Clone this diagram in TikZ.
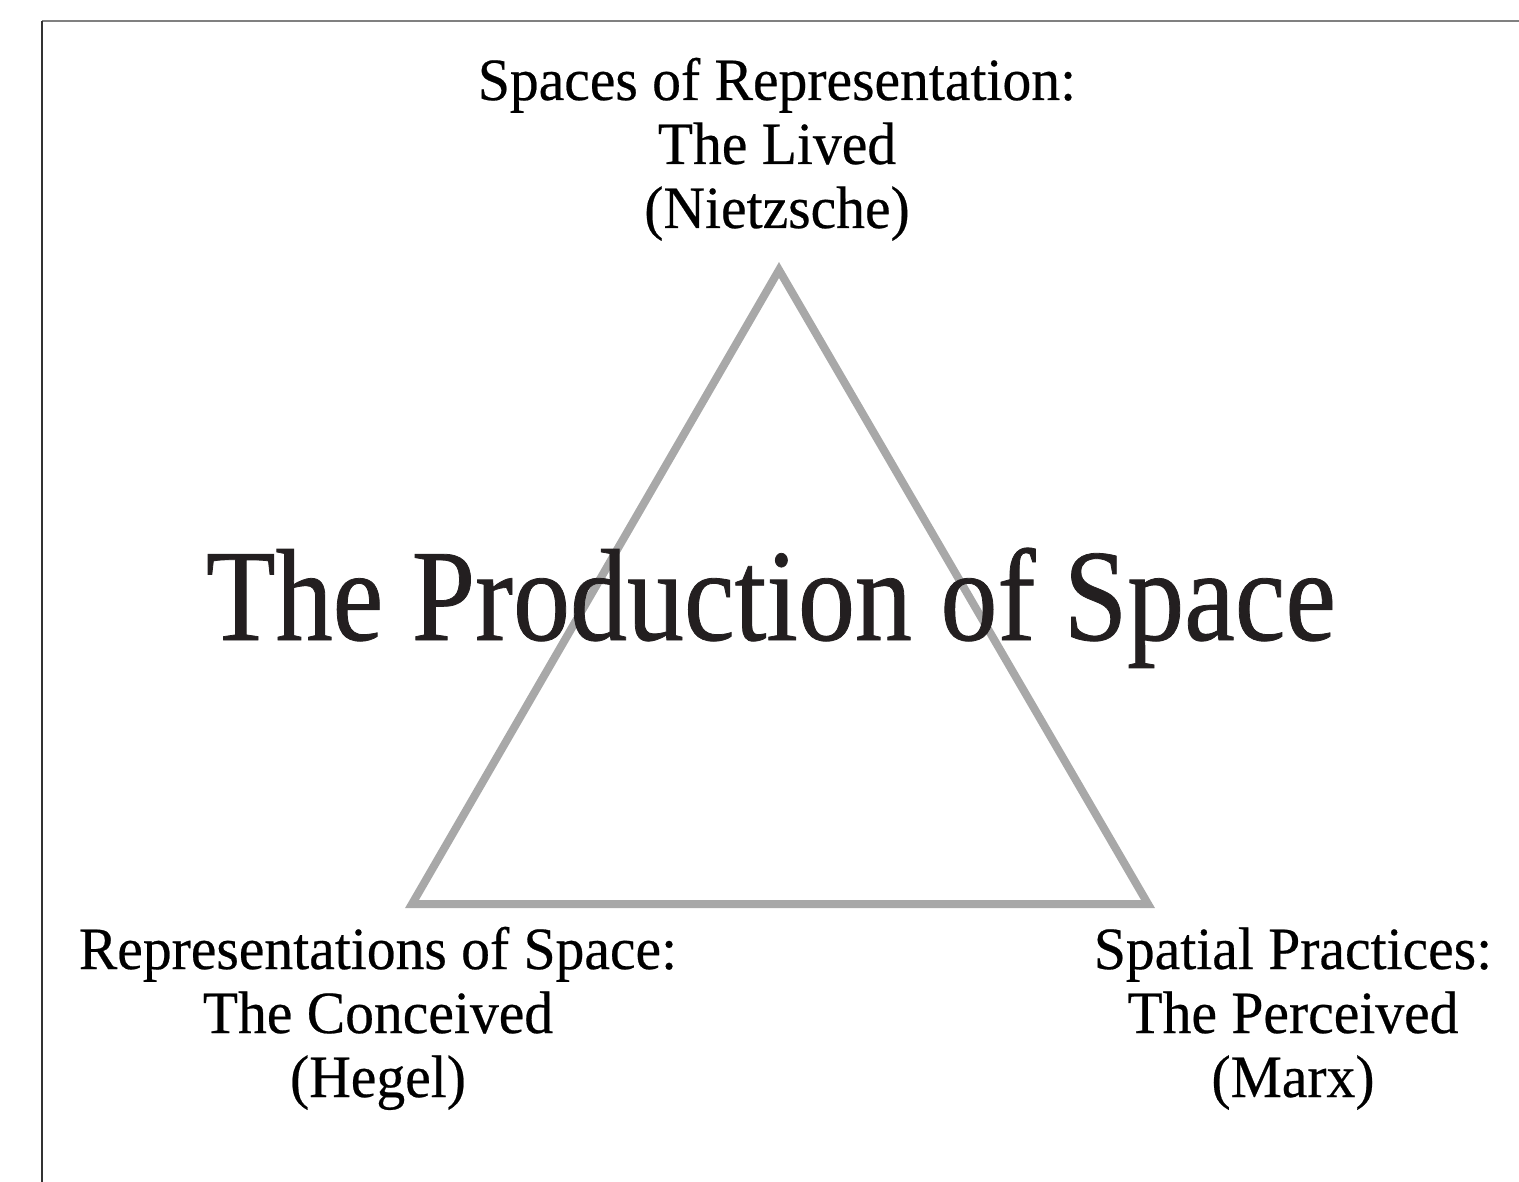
\documentclass[tikz,border=0pt]{standalone}
\usepackage{fontspec}
\setmainfont{Liberation Serif}
\newfontfamily\titlefont[FakeStretch=0.87,FakeBold=0.6]{Liberation Serif}
\newfontfamily\labelfont[FakeStretch=0.96,FakeBold=0.4]{Liberation Serif}
\definecolor{edgegray}{HTML}{A8A8A8}
\definecolor{titleink}{HTML}{231F20}

\begin{document}
\begin{tikzpicture}[x=1pt,y=-1pt,
  corner/.style={inner sep=0pt,align=center,anchor=base,
    font=\labelfont\fontsize{60}{64}\selectfont},
  side/.style={draw=edgegray,line width=8pt,line join=miter}]
  \useasboundingbox (0,0) rectangle (1519,1182);
  % frame
  \draw[line width=2pt,gray] (42,21) -- (1519,21);
  \draw[line width=2.5pt,black!80] (42,21) -- (42,1182);
  % corners of the triangle
  \coordinate (lived) at (779,270);
  \coordinate (conceived) at (412,904);
  \coordinate (perceived) at (1148,904);
  \draw[side] (lived) -- (conceived) -- (perceived) -- cycle;
  % labels (anchored at the baseline of the last line)
  \node[corner] (livedtext) at (777,228) {Spaces of Representation:\\The Lived\\(Nietzsche)};
  \node[corner] (conceivedtext) at (378,1097) {Representations of Space:\\The Conceived\\(Hegel)};
  \node[corner] (perceivedtext) at (1293,1097) {Spatial Practices:\\The Perceived\\(Marx)};
  \node[inner sep=0pt,anchor=base,text=titleink,
    font=\titlefont\fontsize{131}{131}\selectfont] (title) at (771,640) {The Production of Space};
\end{tikzpicture}
\end{document}
